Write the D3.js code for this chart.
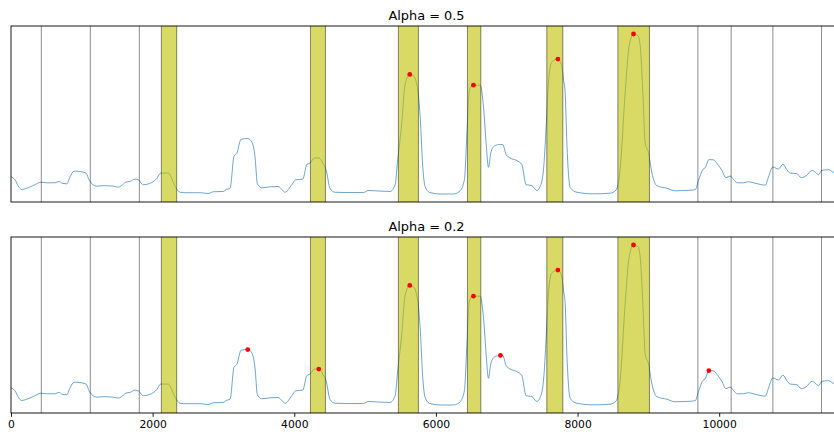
<!DOCTYPE html>
<html><head><meta charset="utf-8">
<script src="https://cdn.jsdelivr.net/npm/d3@7"></script>
<style>body{margin:0;background:#fff}svg{display:block}</style>
</head><body><svg id="c" width="834" height="435"></svg>
<script>
// ---------- data ----------
const sigX = [0,56,103,151,222,315,428,504,621,678,
725,787,833,890,975,1059,1106,1210,1304,1445,
1516,1564,1620,1681,1751,1798,1846,1869,1987,2058,
2114,2222,2270,2316,2387,2482,2670,2787,2857,2999,
3037,3093,3150,3188,3249,3343,3400,3446,3479,3541,
3658,3775,3824,3870,3965,4021,4120,4177,4223,4284,
4346,4411,4449,4506,4576,4742,4976,5047,5212,5353,
5424,5456,5518,5565,5631,5682,5739,5777,5814,5847,
5917,6059,6247,6342,6402,6436,6473,6530,6624,6671,
6709,6742,6775,6822,6883,6911,6945,6991,7048,7142,
7213,7274,7354,7425,7472,7519,7557,7589,7637,7722,
7778,7801,7825,7849,7896,7990,8224,8460,8545,8601,
8672,8729,8790,8852,8884,8922,8955,9002,9050,9120,
9261,9379,9520,9661,9708,9770,9802,9854,9915,9958,
9990,10038,10095,10155,10202,10258,10343,10414,10484,10579,
10650,10696,10758,10837,10899,10956,11003,11097,11158,11229,
11309,11356,11402,11450,11543,11624,11734];
const sigY = [10.6,8.9,4.9,2.8,3.6,5.3,7.4,7.0,7.0,7.9,
6.6,6.4,10.6,14.3,14.0,13.1,8.5,4.9,5.2,4.9,
4.3,5.3,7.4,7.9,9.3,8.9,6.4,5.8,7.2,9.6,
13.1,13.1,9.6,4.9,1.1,0.8,0.8,0.3,1.4,1.6,
2.8,3.6,23.8,25.3,34.3,34.7,32.6,23.1,6.4,3.9,
4.5,4.7,2.8,1.1,5.8,8.9,9.3,18.4,19.4,22.5,
22.5,18.7,15.2,3.3,1.1,0.9,0.9,2.2,1.8,1.6,
5.8,19.4,44.5,68.7,74.8,73.9,66.5,48.7,17.3,4.7,
0.9,0,0,2.0,8.9,36.2,65.5,68.1,68.1,55.0,
31.9,16.7,25.7,29.9,30.9,31.0,30.9,24.7,22.5,20.9,
18.4,5.8,5.3,2.2,4.7,15.2,42.5,69.7,82.7,84.4,
80.2,71.8,63.4,31.9,4.1,1.1,0.1,0.5,2.6,15.2,
63.4,92.8,100.1,99.1,92.8,63.4,31.9,25.7,13.1,5.2,
3.6,2.0,2.2,2.6,8.5,15.4,16.4,21.5,21.4,19.8,
17.9,14.8,10.2,11.2,9.1,7.0,7.0,7.7,7.0,6.0,
5.5,10.6,16.9,15.6,18.7,15.2,13.1,12.7,10.2,11.4,
14.8,13.7,12.1,14.8,15.2,13.3,12.5];
const boundaries = [428,1120,1812,2123,2340,4228,4440,5470,5753,6445,6634,7566,7792,8569,9015,9699,10169,10758,11445];
const bandStart = [2123,4228,5470,6445,7566,8569];
const bandEnd   = [2340,4440,5753,6634,7792,9015];
const titles = ["Alpha = 0.5", "Alpha = 0.2"];
const peaksA = [5631,6530,7722,8790];
const peaksB = [3343,4346,5631,6530,6911,7722,8790,9854];
const xTicks = [0,2000,4000,6000,8000,10000];
const xMax = 11734;

// ---------- drawing ----------
const svg = d3.select("#c");
const signal = sigX.map((x,i)=>({x, y: sigY[i]}));
const left = 11, right = 842;
const panels = [{top:26,bottom:202,title:titles[0],peaks:peaksA,ticks:false},
                {top:237,bottom:413,title:titles[1],peaks:peaksB,ticks:true}];
const x = d3.scaleLinear().domain([0,xMax]).range([left,right]);
const [ymin,ymax] = d3.extent(sigY);
const pad = (ymax-ymin)*0.05;

panels.forEach((p,pi)=>{
  const y = d3.scaleLinear().domain([ymin-pad, ymax+pad]).range([p.bottom,p.top]);
  const g = svg.append("g");
  const cid = "clip"+pi;
  svg.append("clipPath").attr("id",cid).append("rect")
    .attr("x",left).attr("y",p.top).attr("width",right-left).attr("height",p.bottom-p.top);
  const inner = g.append("g").attr("clip-path",`url(#${cid})`);

  const line = d3.line().x(d=>x(d.x)).y(d=>y(d.y)).curve(d3.curveMonotoneX);
  inner.append("path").datum(signal).attr("d",line)
    .attr("fill","none").attr("stroke","#1f77b4").attr("stroke-width",1).attr("stroke-opacity",0.65);

  inner.selectAll(".band").data(bandStart).enter().append("rect")
    .attr("x",(d)=>x(d)).attr("width",(d,i)=>x(bandEnd[i])-x(d))
    .attr("y",p.top).attr("height",p.bottom-p.top)
    .attr("fill","rgb(191,191,0)").attr("fill-opacity",0.6);

  inner.selectAll(".vl").data(boundaries).enter().append("line")
    .attr("x1",d=>x(d)).attr("x2",d=>x(d)).attr("y1",p.top).attr("y2",p.bottom)
    .attr("stroke","#000").attr("stroke-opacity",0.45).attr("stroke-width",1);

  const pk = p.peaks.map(px=>signal[d3.bisector(d=>d.x).center(signal,px)]);
  inner.selectAll(".pk").data(pk).enter().append("circle")
    .attr("cx",d=>x(d.x)).attr("cy",d=>y(d.y)).attr("r",2.4).attr("fill","red");

  g.append("rect").attr("x",left).attr("y",p.top).attr("width",right-left).attr("height",p.bottom-p.top)
    .attr("fill","none").attr("stroke","#000").attr("stroke-width",0.9);

  g.append("text").attr("x",(left+right)/2).attr("y",p.top-6.5).attr("text-anchor","middle")
    .attr("font-family","DejaVu Sans").attr("font-size",12.9).attr("fill","#000").text(p.title);

  if(p.ticks){
    const ax = d3.axisBottom(x).tickValues(xTicks).tickFormat(d3.format("d")).tickSize(3.8).tickPadding(3.3);
    const ag = g.append("g").attr("transform",`translate(0,${p.bottom})`).call(ax);
    ag.select(".domain").remove();
    ag.selectAll("line").attr("stroke","#000").attr("stroke-width",0.9);
    ag.selectAll("text").attr("font-family","DejaVu Sans").attr("font-size",10.75).attr("fill","#000");
  }
});
</script></body></html>
